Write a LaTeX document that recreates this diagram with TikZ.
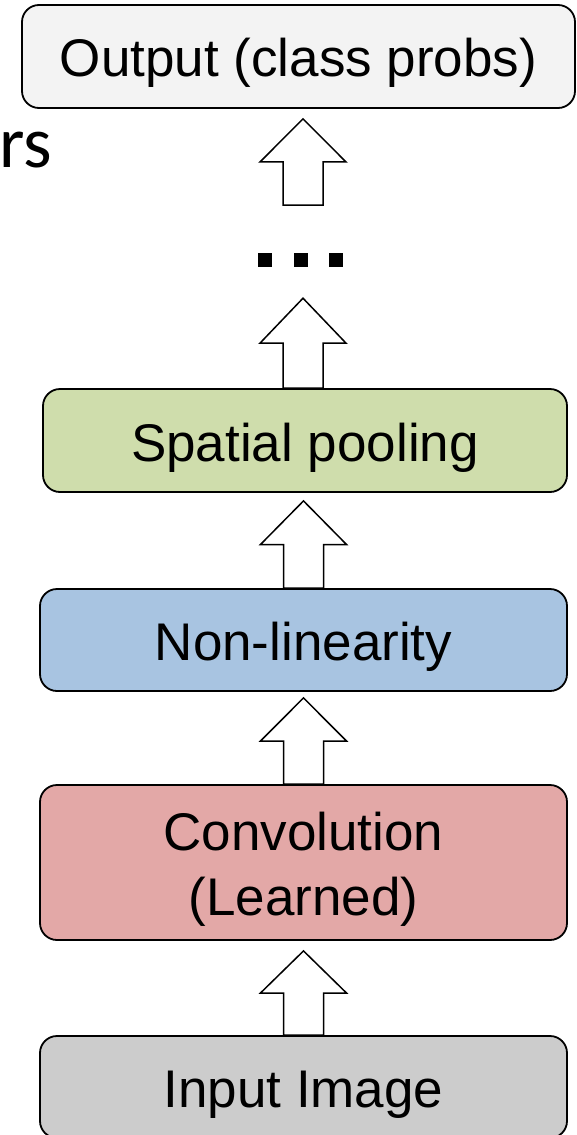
\documentclass[tikz,border=0pt]{standalone}
\usepackage{fontspec}
\setmainfont{Liberation Sans}
\newfontfamily\calibrilike{Carlito}
\usetikzlibrary{calc}

\definecolor{outfill}{RGB}{243,243,243}
\definecolor{poolfill}{RGB}{207,221,172}
\definecolor{nlfill}{RGB}{168,196,225}
\definecolor{convfill}{RGB}{227,168,167}
\definecolor{inputfill}{RGB}{204,204,204}

% label text, set a little below the optical centre of its box
\newcommand\lowtext[1]{\raisebox{-7.5pt}[\height][\depth]{%
  \begin{tabular}{@{}c@{}}#1\end{tabular}}}

\tikzset{
  stage/.style={draw=black, line width=1.8pt, rounded corners=17pt,
    inner sep=0pt, font=\fontsize{53}{65}\selectfont},
  blockarrow/.style={draw=black, fill=white, line width=1.5pt, line join=miter}
}

% Hollow up-arrow: #1 = foot of the shaft, #2 = point where the tip sits
\newcommand\hollowup[2]{%
  \path[blockarrow] let \p1=(#1), \p2=(#2) in
    (\x1-20pt,\y1) -- (\x1-20pt,{(\y1+\y2)/2}) -- (\x1-43pt,{(\y1+\y2)/2})
    -- (\x1,\y2) -- (\x1+43pt,{(\y1+\y2)/2}) -- (\x1+20pt,{(\y1+\y2)/2})
    -- (\x1+20pt,\y1) -- cycle;}

\begin{document}
\begin{tikzpicture}[x=1pt,y=1pt]
  \useasboundingbox (0,0) rectangle (576,-1135);
  \begin{scope}
  \clip (0,0) rectangle (576,-1135);

  % stages of the network, top to bottom
  \node[stage, fill=outfill, minimum width=553pt, minimum height=103pt]
    (out) at (298.5,-56.5) {\lowtext{Output (class probs)}};
  \node[stage, fill=poolfill, minimum width=524pt, minimum height=103pt]
    (pool) at (305,-440.5) {\lowtext{Spatial pooling}};
  \node[stage, fill=nlfill, minimum width=527pt, minimum height=102pt]
    (nonlin) at (303.5,-640) {\lowtext{Non-linearity}};
  \node[stage, fill=convfill, minimum width=527pt, minimum height=155pt]
    (conv) at (303.5,-862.5) {\lowtext{Convolution\\(Learned)}};
  \node[stage, fill=inputfill, minimum width=527pt, minimum height=102pt]
    (input) at (303.5,-1087) {\lowtext{Input Image}};

  % fragment of a side label
  \node[anchor=base east, inner sep=0pt, font=\calibrilike\fontsize{73}{80}\selectfont]
    (side) at (52,-167) {rs};

  % ellipsis standing for further layers
  \node[inner sep=0pt] (dots) at (300.5,-260)
    {\rule{14pt}{14pt}\hspace{21.5pt}\rule{14pt}{14pt}\hspace{21.5pt}\rule{14pt}{14pt}};

  % flow arrows
  \coordinate (afoot) at (303,-205);
  \coordinate (atip) at ($(out.south)+(4.5,-10)$);
  \hollowup{afoot}{atip}
  \hollowup{$(pool.north)+(-2,0)$}{$(dots.south)+(0,-31)$}
  \hollowup{$(nonlin.north)$}{$(pool.south)+(-1.5,-8)$}
  \hollowup{$(conv.north)$}{$(nonlin.south)+(0,-6)$}
  \hollowup{$(input.north)$}{$(conv.south)+(0,-10)$}
  \end{scope}
\end{tikzpicture}
\end{document}
